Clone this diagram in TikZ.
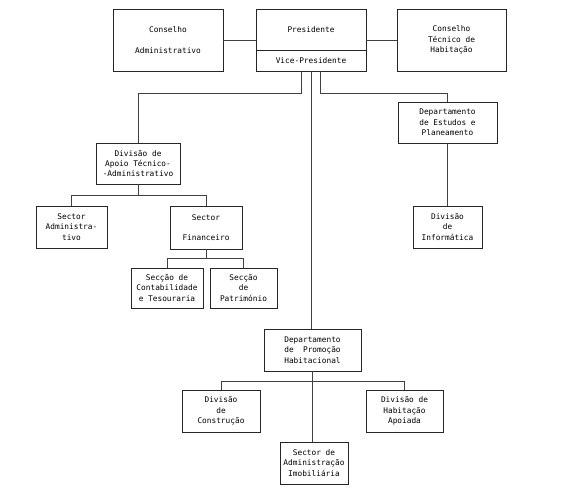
\documentclass[tikz,border=0pt]{standalone}
\usepackage{fontspec}
\setmonofont{DejaVu Sans Mono}
\usepackage{tikz}

\begin{document}
\begin{tikzpicture}[x=1pt, y=-1pt,
    orgbox/.style={draw=black!85, line width=0.8pt, align=center, inner sep=0pt,
      font=\ttfamily\fontsize{7.8}{10.3}\selectfont},
    link/.style={draw=black!75, line width=0.7pt}]
    \useasboundingbox (0, 0) rectangle (579, 490);
    \node[orgbox, minimum width=110, minimum height=62] (cadm) at (168, 40) {Conselho\\[10.3pt]Administrativo};
    \node[orgbox, minimum width=110, minimum height=41] (pres) at (311, 29.5) {Presidente};
    \node[orgbox, minimum width=110, minimum height=21] (vpres) at (311, 60.5) {Vice-Presidente};
    \node[orgbox, minimum width=109, minimum height=62] (ctec) at (451.5, 40) {Conselho\\Técnico de\\Habitação};
    \node[orgbox, minimum width=99, minimum height=41] (dest) at (447.5, 122.5) {Departamento\\de Estudos e\\Planeamento};
    \node[orgbox, minimum width=84, minimum height=41] (apoio) at (138, 163.5) {Divisão de\\Apoio Técnico-\\-Administrativo};
    \node[orgbox, minimum width=71, minimum height=42] (sadm) at (71.5, 227) {Sector\\Administra-\\tivo};
    \node[orgbox, minimum width=72, minimum height=43] (sfin) at (206, 227.5) {Sector\\[10.3pt]Financeiro};
    \node[orgbox, minimum width=72, minimum height=40] (scont) at (167, 288) {Secção de\\Contabilidade\\e Tesouraria};
    \node[orgbox, minimum width=67, minimum height=40] (spat) at (243.5, 288) {Secção\\de\\Património};
    \node[orgbox, minimum width=69, minimum height=42] (dinf) at (447.5, 227) {Divisão\\de\\Informática};
    \node[orgbox, minimum width=97, minimum height=42] (dprom) at (312.5, 350) {Departamento\\de~~Promoção\\Habitacional};
    \node[orgbox, minimum width=78, minimum height=42] (dcons) at (221, 411) {Divisão\\de\\Construção};
    \node[orgbox, minimum width=77, minimum height=42] (dhab) at (404.5, 411) {Divisão de\\Habitação\\Apoiada};
    \node[orgbox, minimum width=68, minimum height=42] (simob) at (314, 463) {Sector de\\Administração\\Imobiliária};

    \draw[link] (cadm.east) -- (cadm.east -| pres.west);
    \draw[link] (ctec.west) -- (ctec.west -| pres.east);
    \draw[link] ([xshift=-10pt]vpres.south) -- ++(0, 22) -| (apoio.north);
    \draw[link] ([xshift=9pt]vpres.south) -- ++(0, 22) -| (dest.north);
    \draw[link] (vpres.south) -- (vpres.south |- dprom.north);
    \draw[link] (dest.south) -- (dest.south |- dinf.north);
    \draw[link] (apoio.south) -- ++(0, 11) coordinate (ba);
    \draw[link] (sadm.north) |- (ba) -| (sfin.north);
    \draw[link] (sfin.south) -- ++(0, 9) coordinate (bf);
    \draw[link] (scont.north) |- (bf) -| (spat.north);
    \draw[link] (dprom.south) -- ++(0, 10) coordinate (bp);
    \draw[link] (dcons.north) |- (bp) -| (dhab.north);
    \draw[link] (bp) -- (bp |- simob.north);
\end{tikzpicture}
\end{document}
